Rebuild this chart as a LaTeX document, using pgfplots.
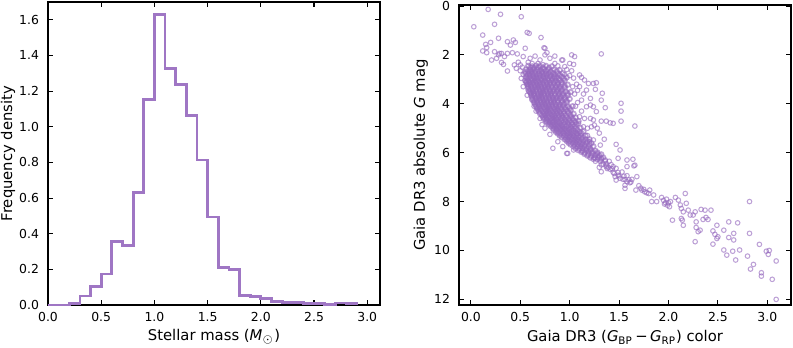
\documentclass[border=0pt]{standalone}
\usepackage{fontspec}
\setmainfont{DejaVu Sans}
\usepackage{pgfplots}
\pgfplotsset{compat=1.18}
\definecolor{tabpurple}{HTML}{9467BD}

\pgfplotsset{
  panel/.style={
    scale only axis,
    anchor=north west,
    axis line style={line width=0.65pt},
    tick align=inside,
    major tick length=2.6pt,
    tick style={black, line width=0.55pt},
    ticklabel style={font=\fontsize{6.2}{7}\selectfont},
    yticklabel style={xshift=-1pt},
    label style={font=\fontsize{7.4}{9}\selectfont},
    /pgf/number format/assume math mode=true,
    xticklabel style={/pgf/number format/.cd, fixed, fixed zerofill, precision=1},
  },
  star/.style={only marks, mark=o, mark size=1.15pt,
    mark options={draw=tabpurple, draw opacity=0.62, line width=#1}},
}

\begin{document}
\begin{tikzpicture}
\path[use as bounding box] (0,0) rectangle (396.5pt,-174pt);

% left: mass histogram
\begin{axis}[panel,
    at={(24pt,-1pt)}, width=166pt, height=151.5pt,
    xmin=0, xmax=3.12, ymin=0, ymax=1.70,
    xtick={0,0.5,...,3},
    ytick={0,0.2,...,1.6},
    yticklabel style={/pgf/number format/.cd, fixed, fixed zerofill, precision=1},
    xlabel={Stellar mass ({\itshape M}$_{\odot}$)},
    ylabel={Frequency density},
    xlabel style={at={(axis description cs:0.5,-0.106)}, anchor=center},
    ylabel style={at={(axis description cs:-0.12,0.5)}, anchor=center},
]
\addplot[const plot, tabpurple!90, line width=1.4pt, line join=miter] coordinates {
  (0.0,0) (0.1,0) (0.2,0.010) (0.3,0.050) (0.4,0.103) (0.5,0.174)
  (0.6,0.357) (0.7,0.333) (0.8,0.631) (0.9,1.151) (1.0,1.628)
  (1.1,1.329) (1.2,1.235) (1.3,1.061) (1.4,0.814) (1.5,0.494)
  (1.6,0.210) (1.7,0.200) (1.8,0.052) (1.9,0.047) (2.0,0.036)
  (2.1,0.019) (2.2,0.015) (2.3,0.015) (2.4,0.007) (2.5,0.007)
  (2.6,0.004) (2.7,0.011) (2.8,0.007) (2.9,0)
};
\end{axis}

% right: colour-magnitude diagram
\begin{axis}[panel,
    at={(229.5pt,-2.5pt)}, width=166pt, height=150pt,
    xmin=-0.12, xmax=3.24, ymin=-0.04, ymax=12.23,
    y dir=reverse,
    xtick={0,0.5,...,3},
    ytick={0,2,...,12},
    xlabel={Gaia DR3 ({\itshape G}\textsubscript{BP}\,−\,{\itshape G}\textsubscript{RP}) color},
    ylabel={Gaia DR3 absolute {\itshape G} mag},
    xlabel style={at={(axis description cs:0.5,-0.107)}, anchor=center},
    ylabel style={at={(axis description cs:-0.115,0.5)}, anchor=center},
]
% dense core of the turn-off and upper main sequence
\addplot[star=0.85pt] coordinates {
  (0.58,2.45) (0.62,2.47) (0.66,2.44) (0.70,2.46) (0.76,2.45) (0.82,2.47)
  (0.56,2.60) (0.60,2.61) (0.63,2.59) (0.67,2.60) (0.71,2.62) (0.74,2.59) (0.78,2.61) (0.84,2.60) (0.90,2.62)
  (0.55,2.75) (0.59,2.76) (0.62,2.74) (0.65,2.75) (0.69,2.77) (0.72,2.74) (0.76,2.76) (0.79,2.75) (0.83,2.74) (0.88,2.76) (0.93,2.75)
  (0.56,2.90) (0.59,2.91) (0.63,2.89) (0.66,2.90) (0.69,2.92) (0.73,2.89) (0.76,2.91) (0.80,2.90) (0.84,2.89) (0.87,2.91) (0.92,2.90) (0.97,2.92)
  (0.55,3.05) (0.58,3.06) (0.62,3.04) (0.65,3.05) (0.68,3.07) (0.72,3.04) (0.75,3.06) (0.79,3.05) (0.82,3.04) (0.86,3.06) (0.90,3.05) (0.95,3.04)
  (0.57,3.20) (0.60,3.21) (0.63,3.19) (0.67,3.20) (0.70,3.22) (0.73,3.19) (0.77,3.21) (0.80,3.20) (0.84,3.19) (0.88,3.21) (0.92,3.20) (0.98,3.22)
  (0.58,3.35) (0.62,3.36) (0.65,3.34) (0.68,3.35) (0.72,3.37) (0.75,3.34) (0.78,3.36) (0.82,3.35) (0.86,3.34) (0.90,3.36) (0.95,3.35)
  (0.59,3.50) (0.63,3.51) (0.66,3.49) (0.70,3.50) (0.73,3.52) (0.76,3.49) (0.80,3.51) (0.83,3.50) (0.87,3.49) (0.91,3.51) (0.96,3.50) (1.01,3.52)
  (0.61,3.65) (0.64,3.66) (0.68,3.64) (0.71,3.65) (0.74,3.67) (0.78,3.64) (0.81,3.66) (0.85,3.65) (0.89,3.64) (0.93,3.66) (0.98,3.65)
  (0.62,3.80) (0.66,3.81) (0.69,3.79) (0.72,3.80) (0.76,3.82) (0.79,3.79) (0.83,3.81) (0.86,3.80) (0.90,3.79) (0.95,3.81) (1.00,3.80)
  (0.64,3.95) (0.67,3.96) (0.71,3.94) (0.74,3.95) (0.77,3.97) (0.81,3.94) (0.84,3.96) (0.88,3.95) (0.92,3.94) (0.97,3.96)
  (0.66,4.10) (0.69,4.11) (0.72,4.09) (0.76,4.10) (0.79,4.12) (0.82,4.09) (0.86,4.11) (0.89,4.10) (0.93,4.09) (0.98,4.11) (1.03,4.10)
  (0.68,4.25) (0.71,4.26) (0.75,4.24) (0.78,4.25) (0.81,4.27) (0.85,4.24) (0.88,4.26) (0.92,4.25) (0.96,4.24) (1.01,4.26)
  (0.70,4.40) (0.74,4.41) (0.77,4.39) (0.80,4.40) (0.84,4.42) (0.87,4.39) (0.91,4.41) (0.94,4.40) (0.99,4.39) (1.04,4.41)
  (0.73,4.55) (0.76,4.56) (0.79,4.54) (0.83,4.55) (0.86,4.57) (0.89,4.54) (0.93,4.56) (0.97,4.55) (1.01,4.54) (1.06,4.56)
  (0.76,4.70) (0.79,4.71) (0.82,4.69) (0.85,4.70) (0.89,4.72) (0.92,4.69) (0.96,4.71) (1.00,4.70) (1.04,4.69) (1.09,4.71)
  (0.79,4.85) (0.82,4.86) (0.85,4.84) (0.88,4.85) (0.92,4.87) (0.95,4.84) (0.99,4.86) (1.03,4.85) (1.07,4.84)
  (0.83,5.00) (0.86,5.01) (0.89,4.99) (0.92,5.00) (0.95,5.02) (0.99,4.99) (1.02,5.01) (1.06,5.00) (1.11,4.99)
  (0.86,5.15) (0.89,5.16) (0.93,5.14) (0.96,5.15) (0.99,5.17) (1.02,5.14) (1.06,5.16) (1.10,5.15) (1.14,5.14)
  (0.90,5.30) (0.94,5.31) (0.97,5.29) (1.00,5.30) (1.04,5.32) (1.07,5.29) (1.11,5.31) (1.16,5.30)
  (0.95,5.45) (0.98,5.46) (1.02,5.44) (1.05,5.45) (1.08,5.47) (1.12,5.44) (1.16,5.46) (1.20,5.45)
  (0.99,5.60) (1.03,5.61) (1.06,5.59) (1.10,5.60) (1.13,5.62) (1.17,5.59) (1.22,5.61)
  (1.04,5.75) (1.08,5.76) (1.11,5.74) (1.15,5.75) (1.19,5.77) (1.24,5.74)
  (1.09,5.90) (1.13,5.91) (1.17,5.89) (1.21,5.90) (1.26,5.92)
  (1.15,6.05) (1.19,6.06) (1.23,6.04) (1.28,6.05) (1.32,6.07)
  (1.21,6.20) (1.25,6.21) (1.29,6.19) (1.34,6.20)
  (0.60,2.52) (0.64,2.53) (0.68,2.51) (0.73,2.52) (0.79,2.53)
  (0.58,2.67) (0.61,2.68) (0.65,2.66) (0.69,2.67) (0.72,2.69) (0.76,2.66) (0.81,2.68) (0.87,2.67)
  (0.57,2.82) (0.60,2.83) (0.63,2.81) (0.67,2.82) (0.70,2.84) (0.74,2.81) (0.77,2.83) (0.81,2.82) (0.85,2.81) (0.90,2.83)
  (0.57,2.97) (0.61,2.98) (0.64,2.96) (0.67,2.97) (0.71,2.99) (0.74,2.96) (0.78,2.98) (0.82,2.97) (0.85,2.96) (0.89,2.98) (0.94,2.97)
  (0.56,3.12) (0.60,3.13) (0.63,3.11) (0.66,3.12) (0.70,3.14) (0.73,3.11) (0.77,3.13) (0.80,3.12) (0.84,3.11) (0.88,3.13) (0.92,3.12)
  (0.58,3.27) (0.61,3.28) (0.65,3.26) (0.68,3.27) (0.71,3.29) (0.75,3.26) (0.78,3.28) (0.82,3.27) (0.86,3.26) (0.90,3.28) (0.95,3.27)
  (0.60,3.42) (0.63,3.43) (0.66,3.41) (0.70,3.42) (0.73,3.44) (0.76,3.41) (0.80,3.43) (0.84,3.42) (0.88,3.41) (0.92,3.43)
  (0.61,3.57) (0.64,3.58) (0.68,3.56) (0.71,3.57) (0.74,3.59) (0.78,3.56) (0.81,3.58) (0.85,3.57) (0.89,3.56) (0.93,3.58) (0.98,3.57)
  (0.62,3.72) (0.66,3.73) (0.69,3.71) (0.72,3.72) (0.76,3.74) (0.79,3.71) (0.83,3.73) (0.87,3.72) (0.91,3.71) (0.95,3.73)
  (0.64,3.87) (0.67,3.88) (0.70,3.86) (0.74,3.87) (0.77,3.89) (0.81,3.86) (0.84,3.88) (0.88,3.87) (0.92,3.86) (0.97,3.88)
  (0.65,4.02) (0.69,4.03) (0.72,4.01) (0.75,4.02) (0.79,4.04) (0.82,4.01) (0.86,4.03) (0.90,4.02) (0.94,4.01)
  (0.67,4.17) (0.70,4.18) (0.74,4.16) (0.77,4.17) (0.80,4.19) (0.84,4.16) (0.87,4.18) (0.91,4.17) (0.95,4.16) (1.00,4.18)
  (0.69,4.32) (0.73,4.33) (0.76,4.31) (0.79,4.32) (0.83,4.34) (0.86,4.31) (0.90,4.33) (0.94,4.32) (0.98,4.31)
  (0.72,4.47) (0.75,4.48) (0.78,4.46) (0.82,4.47) (0.85,4.49) (0.89,4.46) (0.92,4.48) (0.96,4.47) (1.01,4.46)
  (0.74,4.62) (0.77,4.63) (0.81,4.61) (0.84,4.62) (0.87,4.64) (0.91,4.61) (0.95,4.63) (0.99,4.62) (1.03,4.61)
  (0.77,4.77) (0.80,4.78) (0.83,4.76) (0.87,4.77) (0.90,4.79) (0.94,4.76) (0.98,4.78) (1.02,4.77) (1.06,4.76)
  (0.81,4.92) (0.84,4.93) (0.87,4.91) (0.90,4.92) (0.93,4.94) (0.97,4.91) (1.01,4.93) (1.05,4.92)
  (0.84,5.07) (0.87,5.08) (0.91,5.06) (0.94,5.07) (0.97,5.09) (1.00,5.06) (1.04,5.08) (1.08,5.07)
  (0.88,5.22) (0.91,5.23) (0.94,5.21) (0.98,5.22) (1.01,5.24) (1.04,5.21) (1.08,5.23) (1.12,5.22)
  (0.92,5.37) (0.96,5.38) (0.99,5.36) (1.02,5.37) (1.06,5.39) (1.09,5.36) (1.13,5.38)
  (0.97,5.52) (1.00,5.53) (1.04,5.51) (1.07,5.52) (1.10,5.54) (1.14,5.51) (1.18,5.53)
  (1.01,5.67) (1.05,5.68) (1.08,5.66) (1.12,5.67) (1.15,5.69) (1.20,5.66)
  (1.06,5.82) (1.10,5.83) (1.13,5.81) (1.17,5.82) (1.21,5.84)
  (1.12,5.97) (1.15,5.98) (1.19,5.96) (1.23,5.97) (1.28,5.99)
  (1.18,6.12) (1.22,6.13) (1.26,6.11) (1.30,6.12)
};
% sparser stars: outliers, halo and lower main sequence
\addplot[star=0.52pt] coordinates {
  (0.175,0.14) (0.30,0.34) (0.51,0.44) (0.03,0.85) (0.24,0.75) (0.57,1.08)
  (0.59,1.12) (0.71,1.29) (0.12,1.19) (0.28,1.32) (0.37,1.46) (0.43,1.39)
  (0.45,1.49) (0.40,1.60) (0.20,1.49) (0.15,1.57) (0.16,1.70) (0.12,1.84)
  (0.16,1.91) (0.24,1.87) (0.29,1.94) (0.31,1.94) (0.37,1.94) (0.42,1.91)
  (0.47,1.96) (0.55,1.73) (0.74,1.71) (0.75,1.73) (0.21,2.21) (0.26,2.14)
  (0.31,2.31) (0.33,2.39) (0.37,2.66) (0.44,2.41) (0.46,2.55) (0.34,2.07)
  (0.28,2.00) (0.53,2.07) (0.60,2.14) (0.65,2.05) (0.70,2.21) (0.75,2.00)
  (0.80,2.14) (0.85,2.05) (0.92,2.21) (1.02,2.00) (1.05,2.07) (0.77,1.91)
  (0.85,2.35) (0.95,2.48) (1.00,2.35) (1.10,2.82) (1.12,2.92) (0.50,2.41)
  (0.55,2.69) (0.51,2.96) (0.56,3.10) (0.58,3.44) (0.63,3.64) (1.32,1.96)
  (0.93,2.21) (1.04,2.39) (0.48,2.30) (0.52,2.50) (0.50,2.65) (0.53,2.80)
  (0.58,2.30) (0.62,2.35) (0.68,2.35) (0.73,2.40) (0.88,2.45) (0.97,2.60)
  (1.02,2.65) (0.95,2.80) (1.00,2.85) (1.04,2.95)
  (1.15,3.03) (1.24,3.17) (1.27,3.14) (1.26,3.41) (1.33,3.57) (1.32,3.85)
  (1.21,3.78) (1.21,4.05) (1.52,3.98) (1.52,4.30) (1.52,4.71) (1.36,4.16)
  (1.32,4.71) (1.37,4.71) (1.41,4.78) (1.44,4.80) (1.66,4.91) (1.47,5.66)
  (1.51,5.89) (1.24,4.66) (1.10,4.53) (1.14,4.94) (1.17,4.12) (1.12,3.85)
  (1.24,5.48) (1.31,5.69) (1.00,5.35) (1.07,5.21) (0.97,6.03) (1.04,5.89)
  (1.24,4.12) (1.27,4.32) (1.22,4.94) (1.17,3.44) (1.19,3.17) (1.10,3.30)
  (1.25,4.87) (1.21,4.60) (1.20,5.55) (1.07,3.20) (1.05,3.60) (1.08,3.95)
  (1.12,4.30) (1.15,4.60) (1.18,5.00) (1.08,3.45) (1.03,3.30) (1.06,4.10)
  (1.09,4.80) (1.30,5.20) (1.28,5.00) (1.35,5.45) (1.14,3.60) (1.18,5.30)
  (0.83,5.82) (0.98,6.03) (0.88,5.55) (0.93,5.75) (0.60,3.55) (0.62,3.85)
  (0.66,4.30) (0.70,4.60) (0.75,5.00) (0.80,5.25) (0.58,3.20) (0.53,3.30)
  (0.57,3.65) (0.64,4.10) (0.72,4.85)
  (1.26,6.35) (1.31,6.36) (1.36,6.34) (1.40,6.35)
  (1.32,6.50) (1.37,6.51) (1.42,6.49) (1.38,6.65) (1.43,6.66) (1.47,6.64)
  (1.44,6.80) (1.49,6.81) (1.53,6.79) (1.50,6.95) (1.55,6.96) (1.58,6.94)
  (1.56,7.10) (1.60,7.11) (1.63,7.09) (1.62,7.20) (1.24,6.27) (1.28,6.28) (1.32,6.26)
  (1.32,6.23) (1.36,6.30) (1.34,6.47) (1.37,6.57) (1.41,6.68) (1.45,6.85)
  (1.46,6.98) (1.49,6.92) (1.51,7.05) (1.54,7.09) (1.58,7.19) (1.61,7.23)
  (1.56,7.46) (1.47,7.12) (1.32,6.78) (1.58,6.30) (1.64,6.27) (1.66,6.51)
  (1.68,6.98) (1.26,6.23) (1.31,6.30) (1.37,6.44) (1.44,6.57) (1.49,6.23)
  (1.58,6.57) (1.65,6.54) (1.39,6.60) (1.30,6.60) (1.56,7.33) (1.70,7.35)
  (1.72,7.45) (1.67,7.53) (1.73,7.53) (1.76,7.60) (1.80,7.67) (1.81,7.53)
  (1.85,7.73) (1.88,8.00) (1.83,8.00) (1.78,7.64) (1.75,7.50) (1.93,7.83)
  (1.95,7.95) (1.97,8.05) (1.99,8.15) (2.01,8.21) (2.00,8.05) (1.96,8.10)
  (1.98,7.90) (2.02,8.00) (2.04,8.76) (2.07,7.83) (2.10,7.94) (2.12,8.14)
  (2.13,8.28) (2.15,8.42) (2.18,8.07) (2.20,8.35) (2.17,7.67) (2.13,8.69)
  (2.14,8.76) (2.15,8.97) (2.22,8.55) (2.25,8.55) (2.27,8.42) (2.28,8.83)
  (2.33,8.32) (2.37,8.35) (2.38,8.65) (2.43,8.35) (2.35,8.73) (2.40,8.73)
  (2.28,9.06) (2.32,9.17) (2.30,9.23) (2.27,9.64) (2.45,9.20) (2.47,9.34)
  (2.49,9.51) (2.50,9.44) (2.45,9.74) (2.49,8.97) (2.56,9.17) (2.61,8.83)
  (2.70,8.87) (2.61,9.47) (2.66,9.30) (2.66,9.57) (2.65,10.03) (2.56,9.98)
  (2.59,10.19) (2.68,10.39) (2.72,9.98) (2.80,10.23) (2.82,8.00) (2.82,9.30)
  (2.86,10.57) (2.83,10.76) (2.92,9.75) (2.99,10.03) (3.01,10.16) (3.09,10.43)
  (2.94,10.91) (2.94,11.05) (3.05,11.18) (3.09,12.00) (3.02,10.00)
};
\end{axis}
\end{tikzpicture}
\end{document}
